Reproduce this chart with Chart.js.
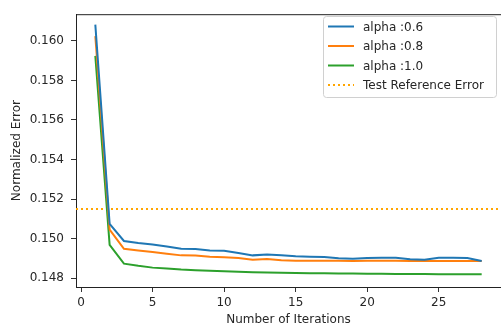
<!DOCTYPE html>
<html>
<head>
<meta charset="utf-8">
<script src="https://cdn.jsdelivr.net/npm/chart.js@4/dist/chart.umd.min.js"></script>
<style>
  body { margin: 0; background: #fff; }
  canvas { display: block; }
</style>
</head>
<body>
<canvas id="chart1" width="501" height="327"></canvas>
<script>
const iterations = [1, 2, 3, 4, 5, 6, 7, 8, 9, 10, 11, 12, 13, 14, 15, 16, 17, 18, 19, 20, 21, 22, 23, 24, 25, 26, 27, 28];
const alpha06 = [0.16082, 0.15074, 0.14988, 0.14978, 0.1497, 0.1496, 0.14948, 0.14947, 0.1494, 0.14938,
  0.14927, 0.14915, 0.1492, 0.14916, 0.1491, 0.14908, 0.14907, 0.149, 0.14898, 0.14902,
  0.14903, 0.14903, 0.14895, 0.14893, 0.14903, 0.14903, 0.14902, 0.14887];
const alpha08 = [0.16024, 0.15045, 0.14948, 0.1494, 0.14932, 0.14923, 0.14915, 0.14914, 0.14908, 0.14905,
  0.14902, 0.14893, 0.14897, 0.1489, 0.14888, 0.14888, 0.14888, 0.14888, 0.14887, 0.14888,
  0.14888, 0.14888, 0.14887, 0.14887, 0.14887, 0.14887, 0.14887, 0.14887];
const alpha10 = [0.15924, 0.14968, 0.14873, 0.14862, 0.14853, 0.14848, 0.14843, 0.1484, 0.14837, 0.14835,
  0.14832, 0.1483, 0.14828, 0.14827, 0.14826, 0.14825, 0.14824, 0.14823, 0.14823, 0.14822,
  0.14822, 0.14821, 0.14821, 0.14821, 0.1482, 0.1482, 0.1482, 0.1482];
const refError = 0.1515;
const xTicks = [0, 5, 10, 15, 20, 25];
const yTicks = [0.148, 0.150, 0.152, 0.154, 0.156, 0.158, 0.160];
const xMin = -0.35, xMax = 29.35;
const yMin = 0.14755, yMax = 0.16135;

const toPoints = (vals) => vals.map((v, i) => ({ x: iterations[i], y: v }));
const textColor = '#262626';
const font = { family: 'DejaVu Sans', size: 12 };

// top spine + legend box in matplotlib style
const framePlugin = {
  id: 'frame',
  afterDatasetsDraw(chart) {
    const c = chart.ctx, a = chart.chartArea;
    c.save();
    c.strokeStyle = '#222';
    c.lineWidth = 1;
    c.beginPath();
    c.moveTo(a.left, a.top + 0.5);
    c.lineTo(a.right, a.top + 0.5);
    c.stroke();

    const bx = 323.5, by = 16.5, bw = 173, bh = 81, r = 3;
    c.fillStyle = 'rgba(255,255,255,0.8)';
    c.strokeStyle = '#d0d0d0';
    c.beginPath();
    c.roundRect(bx, by, bw, bh, r);
    c.fill();
    c.stroke();

    c.font = '12px "DejaVu Sans"';
    c.textBaseline = 'middle';
    c.textAlign = 'left';
    chart.data.datasets.forEach((ds, i) => {
      const y = 26.5 + i * 19.5;
      c.strokeStyle = ds.borderColor;
      c.lineWidth = ds.borderWidth;
      c.setLineDash(ds.borderDash || []);
      c.beginPath();
      c.moveTo(328, y);
      c.lineTo(354, y);
      c.stroke();
      c.setLineDash([]);
      c.fillStyle = textColor;
      c.fillText(ds.label, 363, y + 1);
    });
    c.restore();
  }
};

var ctx = document.getElementById('chart1').getContext('2d');
new Chart(ctx, {
  type: 'line',
  data: {
    datasets: [{
      label: 'alpha :0.6',
      data: toPoints(alpha06),
      borderColor: '#1f77b4',
      borderWidth: 2,
      pointRadius: 0,
      tension: 0
    }, {
      label: 'alpha :0.8',
      data: toPoints(alpha08),
      borderColor: '#ff7f0e',
      borderWidth: 2,
      pointRadius: 0,
      tension: 0
    }, {
      label: 'alpha :1.0',
      data: toPoints(alpha10),
      borderColor: '#2ca02c',
      borderWidth: 2,
      pointRadius: 0,
      tension: 0
    }, {
      label: 'Test Reference Error',
      data: [{ x: xMin, y: refError }, { x: xMax, y: refError }],
      borderColor: '#ffa500',
      borderWidth: 2,
      borderDash: [2, 3],
      pointRadius: 0
    }]
  },
  options: {
    responsive: false,
    animation: false,
    layout: { padding: { top: 11, right: 0, left: 0, bottom: 0 } },
    plugins: {
      legend: { display: false },
      tooltip: { enabled: false }
    },
    scales: {
      x: {
        type: 'linear',
        min: xMin,
        max: xMax,
        afterBuildTicks: (s) => { s.ticks = xTicks.map(v => ({ value: v })); },
        afterFit: (s) => { s.height = 40; },
        grid: { drawOnChartArea: false, tickLength: 5, tickColor: '#333' },
        border: { color: '#222', width: 1 },
        ticks: { color: textColor, font: font, padding: 4, maxRotation: 0 },
        title: { display: true, text: 'Number of Iterations', color: textColor, font: font, padding: { top: 0, bottom: 0 } }
      },
      y: {
        min: yMin,
        max: yMax,
        afterBuildTicks: (s) => { s.ticks = yTicks.map(v => ({ value: v })); },
        afterFit: (s) => { s.width = 76; },
        grid: { drawOnChartArea: false, tickLength: 5, tickColor: '#333' },
        border: { color: '#222', width: 1 },
        ticks: { color: textColor, font: font, padding: 7, callback: (v) => v.toFixed(3) },
        title: { display: true, text: 'Normalized Error', color: textColor, font: font, padding: { top: 10, bottom: 0 } }
      }
    }
  },
  plugins: [framePlugin]
});
</script>
</body>
</html>
